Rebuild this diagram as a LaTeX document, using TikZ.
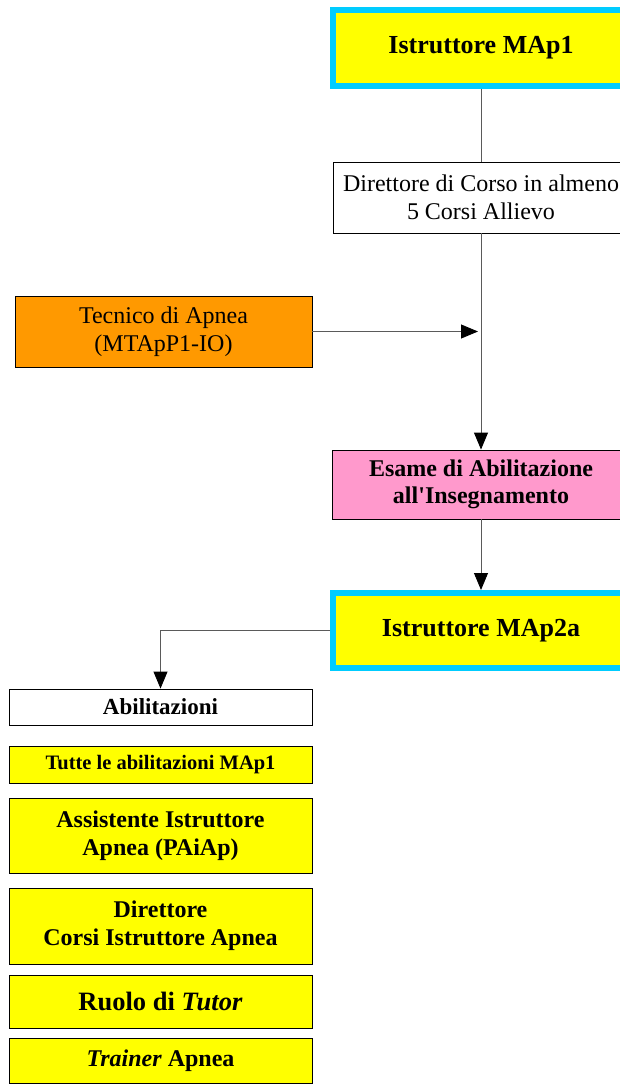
\documentclass[tikz,border=0pt]{standalone}
\usepackage{fontspec}
\setmainfont{Liberation Serif}
\usetikzlibrary{arrows.meta}
\definecolor{myyellow}{RGB}{255,255,0}
\definecolor{mycyan}{RGB}{0,204,255}
\definecolor{myorange}{RGB}{255,153,0}
\definecolor{mypink}{RGB}{255,153,204}
\definecolor{linegray}{RGB}{90,90,90}
\begin{document}
\begin{tikzpicture}[x=1pt,y=-1pt,
  box/.style={draw=black, line width=0.9pt, rectangle, inner sep=0pt, align=center, font=\fontsize{24}{27.6}\selectfont},
  bbox/.style={box, fill=myyellow, font=\fontsize{24}{27.6}\selectfont\bfseries},
  titlebox/.style={draw=mycyan, fill=myyellow, line width=6pt, rectangle, inner sep=0pt, align=center, font=\fontsize{26}{30}\selectfont\bfseries},
  conn/.style={draw=linegray, line width=0.9pt},
  arr/.style={conn, -{Triangle[length=17pt,width=14pt,color=black]}}
]
\useasboundingbox (0,0) rectangle (620,1086);
\begin{scope}
\clip (0,0) rectangle (620,1086);
\node[titlebox, minimum width=296pt, minimum height=76pt] (map1) at (481,48) {Istruttore MAp1};
\node[box, fill=white, minimum width=296pt, minimum height=71pt] (dir) at (481,197.5) {Direttore di Corso in almeno\\5 Corsi Allievo};
\node[box, fill=myorange, minimum width=297pt, minimum height=71pt] (tec) at (163.5,331.5) {Tecnico di Apnea\\(MTApP1-IO)};
\node[box, fill=mypink, minimum width=297pt, minimum height=69pt, font=\fontsize{24}{27.6}\selectfont\bfseries] (esame) at (481,484.5) {Esame di Abilitazione\\all\textquotesingle Insegnamento};
\node[titlebox, minimum width=296pt, minimum height=75pt] (map2) at (481,630.5) {Istruttore MAp2a};
\node[box, fill=white, minimum width=303pt, minimum height=36pt, font=\fontsize{23}{26}\selectfont\bfseries] (abil) at (160.5,707) {Abilitazioni};
\node[bbox, minimum width=303pt, minimum height=37pt, font=\fontsize{20.5}{24}\selectfont\bfseries] (tutte) at (160.5,764.5) {Tutte le abilitazioni MAp1};
\node[bbox, minimum width=303pt, minimum height=75pt] (ass) at (160.5,835.5) {Assistente Istruttore\\Apnea (PAiAp)};
\node[bbox, minimum width=303pt, minimum height=76pt] (dirc) at (160.5,926) {Direttore\\Corsi Istruttore Apnea};
\node[bbox, minimum width=303pt, minimum height=53pt, font=\fontsize{26.5}{30}\selectfont\bfseries] (ruolo) at (160.5,1001.5) {Ruolo di \textit{Tutor}};
\node[bbox, minimum width=303pt, minimum height=45pt] (trainer) at (160.5,1060.5) {\textit{Trainer} Apnea};
\coordinate (tecend) at (478,331.5);
\draw[conn] (map1.south) -- (dir.north);
\draw[arr] (dir.south) -- (dir.south |- esame.north);
\draw[arr] (tec.east) -- (tecend);
\draw[arr] (esame.south) -- (esame.south |- map2.north);
\draw[arr] (map2.west) -| (abil.north);
\end{scope}
\end{tikzpicture}
\end{document}
